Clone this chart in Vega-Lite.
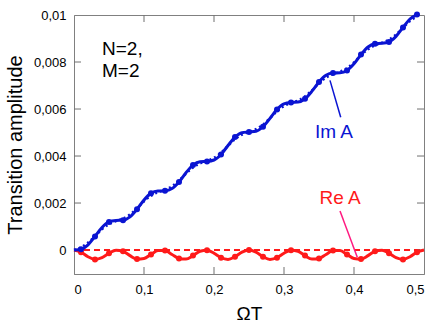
{
  "$schema": "https://vega.github.io/schema/vega-lite/v6.json",
  "width": 350,
  "height": 259,
  "autosize": "none",
  "padding": {"left": 74, "top": 15, "right": 12, "bottom": 53},
  "background": "white",
  "config": {
    "view": {"stroke": "#808080", "strokeWidth": 1},
    "font": "Liberation Sans"
  },
  "datasets": {
    "imA": [
      {"t":0,"v":0},{"t":0.01,"v":0.000032},{"t":0.02,"v":0.000221},{"t":0.03,"v":0.000578},{"t":0.04,"v":0.000958},{"t":0.05,"v":0.001195},{"t":0.06,"v":0.001256},{"t":0.07,"v":0.00127},{"t":0.08,"v":0.001412},{"t":0.09,"v":0.001735},
      {"t":0.10,"v":0.002128},{"t":0.11,"v":0.002411},{"t":0.12,"v":0.002508},{"t":0.13,"v":0.002517},{"t":0.14,"v":0.002614},{"t":0.15,"v":0.002897},{"t":0.16,"v":0.00329},{"t":0.17,"v":0.003613},{"t":0.18,"v":0.003755},{"t":0.19,"v":0.003769},
      {"t":0.20,"v":0.00383},{"t":0.21,"v":0.004067},{"t":0.22,"v":0.004447},{"t":0.23,"v":0.004804},{"t":0.24,"v":0.004993},{"t":0.25,"v":0.005025},{"t":0.26,"v":0.005057},{"t":0.27,"v":0.005246},{"t":0.28,"v":0.005603},{"t":0.29,"v":0.005983},
      {"t":0.30,"v":0.00622},{"t":0.31,"v":0.006281},{"t":0.32,"v":0.006295},{"t":0.33,"v":0.006437},{"t":0.34,"v":0.00676},{"t":0.35,"v":0.007153},{"t":0.36,"v":0.007436},{"t":0.37,"v":0.007533},{"t":0.38,"v":0.007542},{"t":0.39,"v":0.007639},
      {"t":0.40,"v":0.007922},{"t":0.41,"v":0.008315},{"t":0.42,"v":0.008638},{"t":0.43,"v":0.00878},{"t":0.44,"v":0.008794},{"t":0.45,"v":0.008855},{"t":0.46,"v":0.009092},{"t":0.47,"v":0.009472},{"t":0.48,"v":0.009829},{"t":0.49,"v":0.010018}
    ],
    "imTheory": [
      {"t":0,"v":0},{"t":0.01,"v":0.000117},{"t":0.02,"v":0.000312},{"t":0.03,"v":0.000591},{"t":0.04,"v":0.000881},{"t":0.05,"v":0.0011},{"t":0.06,"v":0.001231},{"t":0.07,"v":0.001339},{"t":0.08,"v":0.00151},{"t":0.09,"v":0.001772},
      {"t":0.10,"v":0.002069},{"t":0.11,"v":0.002311},{"t":0.12,"v":0.00246},{"t":0.13,"v":0.002565},{"t":0.14,"v":0.002714},{"t":0.15,"v":0.002956},{"t":0.16,"v":0.003253},{"t":0.17,"v":0.003515},{"t":0.18,"v":0.003687},{"t":0.19,"v":0.003794},
      {"t":0.20,"v":0.003925},{"t":0.21,"v":0.004144},{"t":0.22,"v":0.004435},{"t":0.23,"v":0.004714},{"t":0.24,"v":0.004908},{"t":0.25,"v":0.005025},{"t":0.26,"v":0.005142},{"t":0.27,"v":0.005337},{"t":0.28,"v":0.005616},{"t":0.29,"v":0.005906},
      {"t":0.30,"v":0.006125},{"t":0.31,"v":0.006256},{"t":0.32,"v":0.006364},{"t":0.33,"v":0.006535},{"t":0.34,"v":0.006797},{"t":0.35,"v":0.007094},{"t":0.36,"v":0.007336},{"t":0.37,"v":0.007485},{"t":0.38,"v":0.00759},{"t":0.39,"v":0.007739},
      {"t":0.40,"v":0.007981},{"t":0.41,"v":0.008278},{"t":0.42,"v":0.00854},{"t":0.43,"v":0.008712},{"t":0.44,"v":0.008819},{"t":0.45,"v":0.00895},{"t":0.46,"v":0.009169},{"t":0.47,"v":0.00946},{"t":0.48,"v":0.009739},{"t":0.49,"v":0.009933}
    ],
    "reA": [
      {"t":0,"v":0},{"t":0.01,"v":-0.000093},{"t":0.02,"v":-0.000285},{"t":0.03,"v":-0.000398},{"t":0.04,"v":-0.000328},{"t":0.05,"v":-0.000138},{"t":0.06,"v":-0.000006},{"t":0.07,"v":-0.000054},{"t":0.08,"v":-0.000238},{"t":0.09,"v":-0.000386},
      {"t":0.10,"v":-0.000362},{"t":0.11,"v":-0.000188},{"t":0.12,"v":-0.000025},{"t":0.13,"v":-0.000025},{"t":0.14,"v":-0.000188},{"t":0.15,"v":-0.000362},{"t":0.16,"v":-0.000386},{"t":0.17,"v":-0.000238},{"t":0.18,"v":-0.000054},{"t":0.19,"v":-0.000006},
      {"t":0.20,"v":-0.000138},{"t":0.21,"v":-0.000328},{"t":0.22,"v":-0.000398},{"t":0.23,"v":-0.000285},{"t":0.24,"v":-0.000093},{"t":0.25,"v":0},{"t":0.26,"v":-0.000093},{"t":0.27,"v":-0.000285},{"t":0.28,"v":-0.000398},{"t":0.29,"v":-0.000328},
      {"t":0.30,"v":-0.000138},{"t":0.31,"v":-0.000006},{"t":0.32,"v":-0.000054},{"t":0.33,"v":-0.000238},{"t":0.34,"v":-0.000386},{"t":0.35,"v":-0.000362},{"t":0.36,"v":-0.000188},{"t":0.37,"v":-0.000025},{"t":0.38,"v":-0.000025},{"t":0.39,"v":-0.000188},
      {"t":0.40,"v":-0.000362},{"t":0.41,"v":-0.000386},{"t":0.42,"v":-0.000238},{"t":0.43,"v":-0.000054},{"t":0.44,"v":-0.000006},{"t":0.45,"v":-0.000138},{"t":0.46,"v":-0.000328},{"t":0.47,"v":-0.000398},{"t":0.48,"v":-0.000285},{"t":0.49,"v":-0.000093},{"t":0.50,"v":0}
    ],
    "zero": [{"t":0,"v":0},{"t":0.5,"v":0}],
    "xticks": [{"xv":0.1},{"xv":0.2},{"xv":0.3},{"xv":0.4}],
    "yticks": [{"yv":0},{"yv":0.002},{"yv":0.004},{"yv":0.006},{"yv":0.008}],
    "notes": [{"t":0.04,"v":0.0083,"txt":"N=2,"},{"t":0.04,"v":0.00738,"txt":"M=2"}],
    "imLabel": [{"t":0.3714,"v":0.00478,"txt":"Im A","t2":0.3657,"v2":0.00722,"t3":0.381,"v3":0.00565}],
    "reLabel": [{"t":0.38,"v":0.00196,"txt":"Re A","t2":0.38,"v2":0.00166,"t3":0.4047,"v3":-0.00031}]
  },
  "layer": [
    {
      "data": {"name": "zero"},
      "mark": {"type": "line", "color": "#ff1a1a", "strokeWidth": 2, "strokeDash": [6, 4]},
      "encoding": {
        "x": {"field": "t", "type": "quantitative", "scale": {"domain": [0, 0.5], "nice": false, "zero": false},
              "axis": {"values": [0, 0.1, 0.2, 0.3, 0.4, 0.5], "grid": false, "ticks": false, "domainColor": "#808080", "labelFont": "Liberation Sans", "labelFontSize": 13, "labelColor": "#000000", "labelExpr": "replace(format(datum.value, '.1~f'), '.', ',')", "title": "ΩT", "titleFont": "Liberation Sans", "titleFontWeight": "normal", "titleColor": "#000000", "titleFontSize": 19, "labelPadding": 9, "titlePadding": 8}},
        "y": {"field": "v", "type": "quantitative", "scale": {"domain": [-0.00102, 0.01], "nice": false, "zero": false},
              "axis": {"values": [0, 0.002, 0.004, 0.006, 0.008, 0.01], "grid": false, "ticks": false, "domainColor": "#808080", "labelFont": "Liberation Sans", "labelFontSize": 13, "labelColor": "#000000", "labelExpr": "replace(format(datum.value, '.3~f'), '.', ',')", "title": "Transition amplitude", "titleFont": "Liberation Sans", "titleFontWeight": "normal", "titleColor": "#000000", "titleFontSize": 20, "labelPadding": 8, "titlePadding": 8}}
      }
    },
    {
      "data": {"name": "xticks"},
      "mark": {"type": "tick", "orient": "vertical", "size": 14, "thickness": 1, "color": "#707070", "opacity": 1, "clip": true},
      "encoding": {
        "x": {"field": "xv", "type": "quantitative", "axis": null},
        "y": {"datum": -0.00102, "type": "quantitative", "axis": null}
      }
    },
    {
      "data": {"name": "xticks"},
      "mark": {"type": "tick", "orient": "vertical", "size": 14, "thickness": 1, "color": "#707070", "opacity": 1, "clip": true},
      "encoding": {
        "x": {"field": "xv", "type": "quantitative", "axis": null},
        "y": {"datum": 0.01, "type": "quantitative", "axis": null}
      }
    },
    {
      "data": {"name": "yticks"},
      "mark": {"type": "tick", "orient": "horizontal", "size": 14, "thickness": 1, "color": "#707070", "opacity": 1, "clip": true},
      "encoding": {
        "y": {"field": "yv", "type": "quantitative", "axis": null},
        "x": {"datum": 0, "type": "quantitative", "axis": null}
      }
    },
    {
      "data": {"name": "yticks"},
      "mark": {"type": "tick", "orient": "horizontal", "size": 14, "thickness": 1, "color": "#707070", "opacity": 1, "clip": true},
      "encoding": {
        "y": {"field": "yv", "type": "quantitative", "axis": null},
        "x": {"datum": 0.5, "type": "quantitative", "axis": null}
      }
    },
    {
      "data": {"name": "reA"},
      "mark": {"type": "line", "color": "#ff1a1a", "strokeWidth": 3, "interpolate": "monotone"},
      "encoding": {
        "x": {"field": "t", "type": "quantitative", "axis": null},
        "y": {"field": "v", "type": "quantitative", "axis": null}
      }
    },
    {
      "data": {"name": "reA"},
      "transform": [{"filter": "round(datum.t * 100) % 2 == 1"}],
      "mark": {"type": "point", "filled": true, "color": "#ff1a1a", "size": 36, "opacity": 1},
      "encoding": {
        "x": {"field": "t", "type": "quantitative", "axis": null},
        "y": {"field": "v", "type": "quantitative", "axis": null}
      }
    },
    {
      "data": {"name": "imTheory"},
      "mark": {"type": "line", "color": "#0a14d2", "strokeWidth": 2.5, "strokeDash": [2, 3], "interpolate": "monotone"},
      "encoding": {
        "x": {"field": "t", "type": "quantitative", "axis": null},
        "y": {"field": "v", "type": "quantitative", "axis": null}
      }
    },
    {
      "data": {"name": "imA"},
      "mark": {"type": "line", "color": "#0a14d2", "strokeWidth": 3, "interpolate": "monotone"},
      "encoding": {
        "x": {"field": "t", "type": "quantitative", "axis": null},
        "y": {"field": "v", "type": "quantitative", "axis": null}
      }
    },
    {
      "data": {"name": "imA"},
      "transform": [{"filter": "round(datum.t * 100) % 2 == 1"}],
      "mark": {"type": "point", "filled": true, "color": "#0a14d2", "size": 36, "opacity": 1},
      "encoding": {
        "x": {"field": "t", "type": "quantitative", "axis": null},
        "y": {"field": "v", "type": "quantitative", "axis": null}
      }
    },
    {
      "data": {"name": "imLabel"},
      "mark": {"type": "rule", "color": "#0a14d2", "strokeWidth": 1.5},
      "encoding": {
        "x": {"field": "t2", "type": "quantitative", "axis": null},
        "y": {"field": "v2", "type": "quantitative", "axis": null},
        "x2": {"field": "t3"},
        "y2": {"field": "v3"}
      }
    },
    {
      "data": {"name": "reLabel"},
      "mark": {"type": "rule", "color": "#ff1a80", "strokeWidth": 1.5},
      "encoding": {
        "x": {"field": "t2", "type": "quantitative", "axis": null},
        "y": {"field": "v2", "type": "quantitative", "axis": null},
        "x2": {"field": "t3"},
        "y2": {"field": "v3"}
      }
    },
    {
      "data": {"name": "notes"},
      "mark": {"type": "text", "align": "left", "baseline": "alphabetic", "fontSize": 19, "color": "#000000", "font": "Liberation Sans"},
      "encoding": {
        "x": {"field": "t", "type": "quantitative", "axis": null},
        "y": {"field": "v", "type": "quantitative", "axis": null},
        "text": {"field": "txt"}
      }
    },
    {
      "data": {"name": "imLabel"},
      "mark": {"type": "text", "align": "center", "baseline": "alphabetic", "fontSize": 19, "color": "#0a14d2", "font": "Liberation Sans"},
      "encoding": {
        "x": {"field": "t", "type": "quantitative", "axis": null},
        "y": {"field": "v", "type": "quantitative", "axis": null},
        "text": {"field": "txt"}
      }
    },
    {
      "data": {"name": "reLabel"},
      "mark": {"type": "text", "align": "center", "baseline": "alphabetic", "fontSize": 19, "color": "#ff1a1a", "font": "Liberation Sans"},
      "encoding": {
        "x": {"field": "t", "type": "quantitative", "axis": null},
        "y": {"field": "v", "type": "quantitative", "axis": null},
        "text": {"field": "txt"}
      }
    }
  ],
  "resolve": {"axis": {"x": "independent", "y": "independent"}}
}
